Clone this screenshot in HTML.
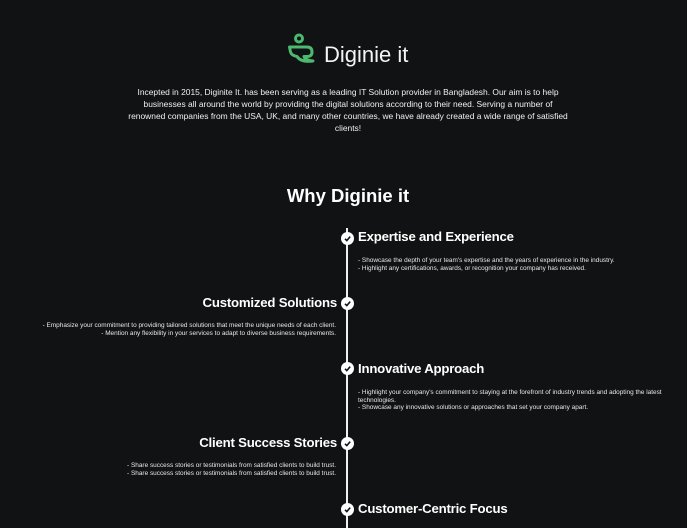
<!DOCTYPE html>
<html><head><style>
body{margin:0;width:687px;height:524px;background:#111213;overflow:hidden;position:relative;font-family:"Liberation Sans",sans-serif;color:#fff}
.a{position:absolute;white-space:nowrap}
.h{font-weight:bold;font-size:13.2px;letter-spacing:-0.2px}
.d{font-size:6.45px;line-height:7.6px;color:#e8e8e8}
.r{text-align:right}
.c{position:absolute;left:341px;width:13px;height:13px;border-radius:50%;background:#fff}
.c svg{position:absolute;left:0;top:0}
</style></head><body>
<svg class="a" style="left:287px;top:33px" width="28" height="30" viewBox="0 0 28 30">
<circle cx="12" cy="5.5" r="3.5" fill="none" stroke="#4cb870" stroke-width="3"/>
<path d="M2.5 14 H20 Q25 14 25 19 Q25 23.5 20 23.5 H17 Q18 27 26 28 Q14 29.5 10 23.5 Q4.5 22.5 3.5 19 Z" fill="none" stroke="#4cb870" stroke-width="3" stroke-linejoin="round"/>
</svg>
<div class="a" style="left:324px;top:42px;font-size:22px;color:#f4f4f4">Diginie it</div>
<div class="a" style="left:78px;width:540px;top:86px;font-size:8.45px;line-height:12px;text-align:center;white-space:normal;color:#f0f0f0">Incepted in 2015, Diginite It. has been serving as a leading IT Solution provider in Bangladesh. Our aim is to help<br>businesses all around the world by providing the digital solutions according to their need. Serving a number of<br>renowned companies from the USA, UK, and many other countries, we have already created a wide range of satisfied<br>clients!</div>
<div class="a" style="left:0;width:696px;text-align:center;top:185px;font-size:18.5px;font-weight:bold">Why Diginie it</div>
<div class="a" style="left:346px;top:228px;width:2px;height:300px;background:#f0f0f0"></div>

<div class="c" style="top:232px"><svg width="13" height="13"><path d="M4 6.8 L5.8 8.6 L9.2 4.6" stroke="#111" stroke-width="1.6" fill="none"/></svg></div>
<div class="c" style="top:297px"><svg width="13" height="13"><path d="M4 6.8 L5.8 8.6 L9.2 4.6" stroke="#111" stroke-width="1.6" fill="none"/></svg></div>
<div class="c" style="top:362px"><svg width="13" height="13"><path d="M4 6.8 L5.8 8.6 L9.2 4.6" stroke="#111" stroke-width="1.6" fill="none"/></svg></div>
<div class="c" style="top:437px"><svg width="13" height="13"><path d="M4 6.8 L5.8 8.6 L9.2 4.6" stroke="#111" stroke-width="1.6" fill="none"/></svg></div>
<div class="c" style="top:503px"><svg width="13" height="13"><path d="M4 6.8 L5.8 8.6 L9.2 4.6" stroke="#111" stroke-width="1.6" fill="none"/></svg></div>

<div class="a h" style="left:358px;top:229px">Expertise and Experience</div>
<div class="a d" style="left:358px;top:257px">- Showcase the depth of your team's expertise and the years of experience in the industry.<br>- Highlight any certifications, awards, or recognition your company has received.</div>

<div class="a h r" style="right:350px;top:295px">Customized Solutions</div>
<div class="a d r" style="right:351px;top:322px">- Emphasize your commitment to providing tailored solutions that meet the unique needs of each client.<br>- Mention any flexibility in your services to adapt to diverse business requirements.</div>

<div class="a h" style="left:358px;top:361px">Innovative Approach</div>
<div class="a d" style="left:358px;top:389px;white-space:normal;width:315px">- Highlight your company's commitment to staying at the forefront of industry trends and adopting the latest technologies.<br>- Showcase any innovative solutions or approaches that set your company apart.</div>

<div class="a h r" style="right:350px;top:435px">Client Success Stories</div>
<div class="a d r" style="right:351px;top:462px">- Share success stories or testimonials from satisfied clients to build trust.<br>- Share success stories or testimonials from satisfied clients to build trust.</div>

<div class="a h" style="left:358px;top:501px">Customer-Centric Focus</div>
</body></html>
